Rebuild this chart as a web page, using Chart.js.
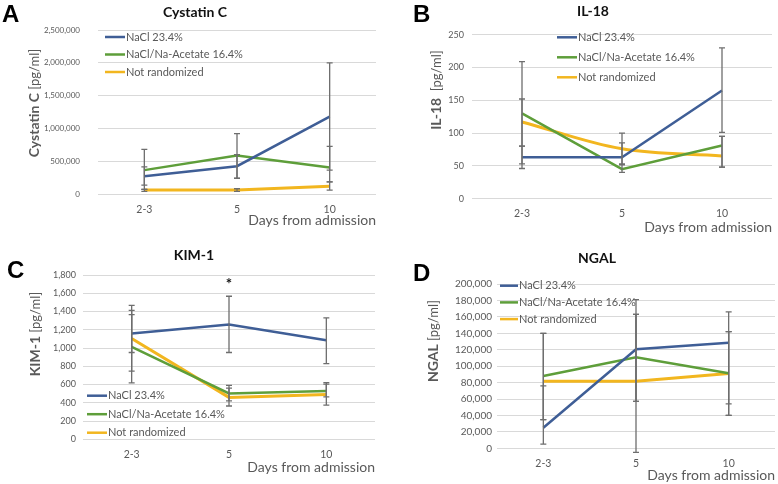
<!DOCTYPE html>
<html>
<head>
<meta charset="utf-8">
<script src="https://cdn.jsdelivr.net/npm/chart.js@4"></script>
<style>
  body { margin: 0; background: #fff; width: 778px; height: 484px; position: relative; overflow: hidden; font-family: Lato, sans-serif; }
  canvas { position: absolute; }
  .letter { position: absolute; font: bold 24px "Liberation Sans", Arial, sans-serif; color: #000; line-height: 1; }
  .title { position: absolute; font: bold 14px Lato, sans-serif; color: #111; transform: translate(-50%, -50%); white-space: nowrap; }
  .ytitle { position: absolute; font: 13px Lato, sans-serif; color: #595959; transform: translate(-50%, -50%) rotate(-90deg); white-space: nowrap; }
  .ytitle b { font-size: 14px; }
  .star { position: absolute; font: bold 15px Lato, sans-serif; color: #111; transform: translate(-50%, -50%); }
</style>
</head>
<body>
<canvas id="cA" width="390" height="232" style="left:0;top:0"></canvas>
<canvas id="cB" width="388" height="240" style="left:390px;top:0"></canvas>
<canvas id="cC" width="390" height="244" style="left:0;top:240px"></canvas>
<canvas id="cD" width="388" height="244" style="left:390px;top:240px"></canvas>

<div class="letter" style="left:2px;top:2px">A</div>
<div class="letter" style="left:413px;top:2px">B</div>
<div class="letter" style="left:7px;top:258px">C</div>
<div class="letter" style="left:413px;top:261px">D</div>

<div class="title" style="left:195px;top:11px">Cystatin C</div>
<div class="title" style="left:593px;top:10px">IL-18</div>
<div class="title" style="left:194px;top:254px">KIM-1</div>
<div class="title" style="left:597px;top:257px">NGAL</div>

<div class="ytitle" style="left:33px;top:103px"><b>Cystatin C</b> [pg/ml]</div>
<div class="ytitle" style="left:435px;top:90px"><b>IL-18</b>&nbsp; [pg/ml]</div>
<div class="ytitle" style="left:34px;top:334px"><b>KIM-1</b> [pg/ml]</div>
<div class="ytitle" style="left:432px;top:341px"><b>NGAL</b> [pg/ml]</div>

<div class="star" style="left:229px;top:283px">*</div>

<script>
const days = ["2-3", "5", "10"];
const groups = ["NaCl 23.4%", "NaCl/Na-Acetate 16.4%", "Not randomized"];
const colors = ["#3f5e96", "#5e9e3a", "#f2b61f"];

// Cystatin C
const cysNaCl = [272000, 424000, 1180000];
const cysAcetate = [364000, 586000, 404000];
const cysNotRand = [60000, 60000, 120000];
const cysNaClErr = [[136000, 680000], [237000, 920000], [364000, 2000000]];
const cysAcetateErr = [[71000, 413000], [240000, 600000], [186000, 727000]];
const cysNotRandErr = [[40000, 71000], [40000, 80000], [60000, 186000]];

// IL-18
const il18NaCl = [63, 63, 165];
const il18Acetate = [130, 45, 81];
const il18NotRand = [117, 76, 65];
const il18NaClErr = [[46, 80], [53, 100], [101, 230]];
const il18AcetateErr = [[53, 209], [40, 52], [48, 95]];
const il18NotRandErr = [[80, 152], [52, 85], [48, 95]];

// KIM-1
const kimNaCl = [1160, 1257, 1085];
const kimAcetate = [1012, 503, 528];
const kimNotRand = [1104, 459, 492];
const kimNaClErr = [[951, 1366], [951, 1567], [830, 1330]];
const kimAcetateErr = [[619, 1413], [420, 590], [465, 620]];
const kimNotRandErr = [[746, 1468], [365, 560], [375, 605]];

// NGAL
const ngalNaCl = [25000, 120500, 128500];
const ngalAcetate = [88000, 110700, 91300];
const ngalNotRand = [81500, 81500, 91000];
const ngalNaClErr = [[5000, 140000], [57000, 181000], [40000, 166000]];
const ngalAcetateErr = [[35000, 140000], [57000, 163000], [54000, 142000]];
const ngalNotRandErr = [[35000, 76000], [-5000, 163000], [40000, 142000]];

const errorBars = {
  id: "errorBars",
  afterDatasetsDraw(chart) {
    const ctx = chart.ctx;
    const y = chart.scales.y;
    ctx.save();
    ctx.strokeStyle = "#6e6e6e";
    ctx.lineWidth = 1.3;
    chart.data.datasets.forEach((ds, di) => {
      const meta = chart.getDatasetMeta(di);
      (ds.errors || []).forEach((e, i) => {
        const px = meta.data[i].x;
        const lo = y.getPixelForValue(e[0]);
        const hi = y.getPixelForValue(e[1]);
        ctx.beginPath();
        ctx.moveTo(px, lo); ctx.lineTo(px, hi);
        ctx.moveTo(px - 3, lo); ctx.lineTo(px + 3, lo);
        ctx.moveTo(px - 3, hi); ctx.lineTo(px + 3, hi);
        ctx.stroke();
      });
    });
    ctx.restore();
  },
};

const insideLegend = {
  id: "insideLegend",
  afterDraw(chart, args, opts) {
    const ctx = chart.ctx;
    ctx.save();
    ctx.font = "11px Lato, sans-serif";
    ctx.textBaseline = "middle";
    chart.data.datasets.forEach((ds, i) => {
      const yy = opts.y + i * opts.gap;
      ctx.strokeStyle = ds.borderColor;
      ctx.lineWidth = 2.5;
      ctx.beginPath();
      ctx.moveTo(opts.x, yy); ctx.lineTo(opts.x + opts.len, yy);
      ctx.stroke();
      ctx.fillStyle = "#595959";
      ctx.fillText(ds.label, opts.x + opts.len + 1, yy);
    });
    ctx.restore();
  },
};

function makeChart(id, values, errs, p) {
  new Chart(document.getElementById(id), {
    type: "line",
    data: {
      labels: days,
      datasets: values.map((v, i) => ({
        label: groups[i],
        data: v,
        errors: errs[i],
        borderColor: colors[i],
        backgroundColor: colors[i],
        borderWidth: i === 2 ? 3 : 2.5,
        pointRadius: 0,
        tension: p.tension && i === 2 ? 0.35 : 0,
      })),
    },
    options: {
      responsive: false,
      animation: false,
      layout: { padding: { top: p.top, right: p.right, left: 0, bottom: 0 } },
      plugins: {
        legend: { display: false },
        tooltip: { enabled: false },
        insideLegend: p.legend,
      },
      scales: {
        x: {
          offset: true,
          grid: { display: false, drawTicks: false },
          border: { display: false },
          ticks: { color: "#595959", font: { family: "Lato", size: 10.5 }, padding: 9 },
          title: {
            display: true,
            text: "Days from admission",
            align: "end",
            color: "#595959",
            font: { family: "Lato", size: 14 },
            padding: { top: 0, bottom: p.titlePad },
          },
          afterFit: (s) => { s.height = p.xHeight; },
        },
        y: {
          min: 0,
          max: p.max,
          grid: { color: "#d9d9d9", drawTicks: false },
          border: { display: false },
          ticks: {
            stepSize: p.step,
            padding: p.yPad,
            color: "#595959",
            font: { family: "Lato", size: p.yFont },
            callback: (v) => v.toLocaleString("en-US"),
          },
          afterFit: (s) => { s.width = p.yWidth; },
        },
      },
    },
    plugins: [errorBars, insideLegend],
  });
}

makeChart("cA", [cysNaCl, cysAcetate, cysNotRand], [cysNaClErr, cysAcetateErr, cysNotRandErr], {
  max: 2500000, step: 500000, top: 30, right: 14, yWidth: 98, yPad: 18, yFont: 8, xHeight: 38, titlePad: 3,
  legend: { x: 105, y: 37, gap: 17.5, len: 20 },
});
makeChart("cB", [il18NaCl, il18Acetate, il18NotRand], [il18NaClErr, il18AcetateErr, il18NotRandErr], {
  max: 250, step: 50, top: 34.7, right: 6, yWidth: 82, yPad: 8, yFont: 9, xHeight: 41.3, titlePad: 4.6, tension: true,
  legend: { x: 167, y: 37.3, gap: 20, len: 20 },
});
makeChart("cC", [kimNaCl, kimAcetate, kimNotRand], [kimNaClErr, kimAcetateErr, kimNotRandErr], {
  max: 1800, step: 200, top: 35, right: 15, yWidth: 83, yPad: 7, yFont: 9, xHeight: 44.7, titlePad: 8.6,
  legend: { x: 87, y: 155.7, gap: 18.5, len: 20 },
});
makeChart("cD", [ngalNaCl, ngalAcetate, ngalNotRand], [ngalNaClErr, ngalAcetateErr, ngalNotRandErr], {
  max: 200000, step: 20000, top: 44, right: 3, yWidth: 107, yPad: 5, yFont: 10, xHeight: 35.7, titlePad: 0,
  legend: { x: 110, y: 45.7, gap: 16.7, len: 18 },
});
</script>
</body>
</html>
